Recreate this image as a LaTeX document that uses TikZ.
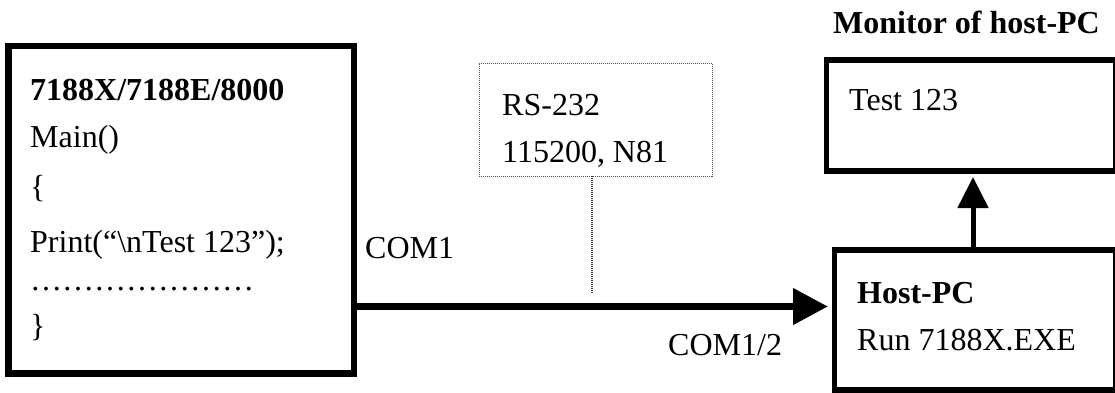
\documentclass[tikz,border=0pt]{standalone}
\usepackage{fontspec}
\setmainfont{Liberation Serif}
\usetikzlibrary{arrows.meta}
\begin{document}
\begin{tikzpicture}[x=1pt,y=-1pt,
  box/.style={draw,rectangle,inner sep=0pt,outer sep=0pt,anchor=north west},
  txt/.style={anchor=base west,inner sep=0pt,font=\fontsize{32}{38}\selectfont},
  btxt/.style={anchor=base west,inner sep=0pt,font=\fontsize{32}{38}\selectfont\bfseries},
  dotbox/.style={draw=black!70,line width=1pt,dash pattern=on 1pt off 1pt,rectangle,inner sep=0pt,outer sep=0pt,anchor=north west}]
\useasboundingbox (0,0) rectangle (1115,392);
% boxes
\node[box,line width=6.5pt,minimum width=345.5pt,minimum height=327.5pt] (dev) at (8.5,46) {};
\node[dotbox,minimum width=233pt,minimum height=113pt] (rs) at (479,63) {};
\node[box,line width=5.5pt,minimum width=289.5pt,minimum height=111pt] (mon) at (826.5,60) {};
\node[box,line width=5.5pt,minimum width=281.5pt,minimum height=140pt] (host) at (834.5,250) {};
% texts
\node[btxt] (t1) at (30,100) {7188X/7188E/8000};
\node[txt] (t2) at (30,147) {Main()};
\node[txt] (t3) at (30,197) {\{};
\node[txt] (t4) at (30,252) {Print(“\textbackslash nTest 123”);};
\node[txt] (t5) at (30,290) {…………………};
\node[txt] (t6) at (30,336) {\}};
\node[txt] (r1) at (502,115) {RS-232};
\node[txt] (r2) at (502,162) {115200, N81};
\node[txt] (c1) at (365,258) {COM1};
\node[txt] (c2) at (668,355) {COM1/2};
\node[btxt] (m0) at (833,33) {Monitor of host-PC};
\node[txt] (m1) at (849,110) {Test 123};
\node[btxt] (h1) at (857,303) {Host-PC};
\node[txt] (h2) at (857,350) {Run 7188X.EXE};
% connectors
\coordinate (a0) at (354,306.5);
\coordinate (a1) at (828,306.5);
\draw[line width=7.5pt,-{Triangle[length=35pt,width=35pt]}] (a0) -- (a1);
\coordinate (d0) at (592,176);
\coordinate (d1) at (592,293);
\draw[draw=black!80,line width=1.3pt,dash pattern=on 1pt off 1pt] (d0) -- (d1);
\coordinate (u0) at (973,250);
\coordinate (u1) at (973,177);
\draw[line width=5pt,-{Triangle[length=31pt,width=30pt]}] (u0) -- (u1);
\end{tikzpicture}
\end{document}
